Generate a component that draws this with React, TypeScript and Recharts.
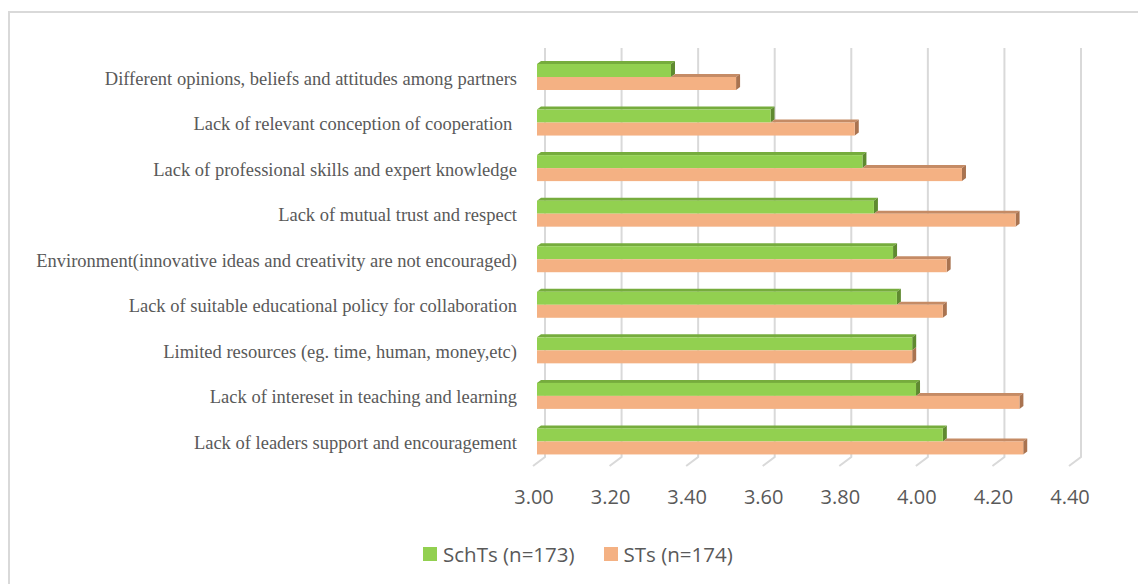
import React from 'react';
import { BarChart, Bar, XAxis, YAxis, CartesianGrid, Legend } from 'recharts';

const categories = [
    'Different opinions, beliefs and attitudes among partners',
    'Lack of relevant conception of cooperation ',
    'Lack of professional skills and expert knowledge',
    'Lack of mutual trust and respect',
    'Environment(innovative ideas and creativity are not encouraged)',
    'Lack of suitable educational policy for collaboration',
    'Limited resources (eg. time, human, money,etc)',
    'Lack of intereset in teaching and learning',
    'Lack of leaders support and encouragement',
];
const schTs = [3.35, 3.61, 3.85, 3.88, 3.93, 3.94, 3.98, 3.99, 4.06];
const sts = [3.52, 3.83, 4.11, 4.25, 4.07, 4.06, 3.98, 4.26, 4.27];
const xTicks = [3.0, 3.2, 3.4, 3.6, 3.8, 4.0, 4.2, 4.4];
const X_MIN = 3;

const data = categories.map((name, i) => ({ name, schts: schTs[i], sts: sts[i] }));

const GREEN = '#92d050';
const ORANGE = '#f4b183';
const TEXT = '#595959';
const DX = 4; // depth of the 3d faces
const DY = 3;

// front face + top + right side, like excel's 3-D clustered bars
const make3D = (topColor: string, sideColor: string, isBack: boolean) => (props: any) => {
    const { x, y, width, height, fill, payload } = props;
    if (width == null || width <= 0) return <g />;
    // the lower bar's top face is hidden under the upper bar up to its end
    let topStart = x;
    if (isBack && payload) {
        const ratio = (payload.schts - X_MIN) / (payload.sts - X_MIN);
        topStart = x + width * Math.min(1, ratio);
    }
    const r = x + width;
    return (
        <g>
            {topStart < r + 0.5 && (
                <path
                    d={`M${topStart},${y} L${topStart + DX},${y - DY} L${r + DX},${y - DY} L${r},${y} Z`}
                    fill={topColor}
                />
            )}
            <path d={`M${r},${y} L${r + DX},${y - DY} L${r + DX},${y + height - DY} L${r},${y + height} Z`} fill={sideColor} />
            <rect x={x} y={y} width={width} height={height} fill={fill} />
        </g>
    );
};

const GreenBar = make3D('#76ac3d', '#5f8a30', false);
const OrangeBar = make3D('#c58b65', '#a97350', true);

// back wall line plus slanted floor line
const gridLine = (props: any) => {
    const { x1, y1, y2, key } = props;
    return (
        <path
            key={key}
            d={`M${x1 + 8},${y1 - 6} L${x1 + 8},${y2 - 7} L${x1 - 4},${y2 + 2}`}
            stroke="#d9d9d9"
            strokeWidth={2}
            fill="none"
        />
    );
};

const XTick = (props: any) => {
    const { x, payload } = props;
    return (
        <text x={x - 3} y={504} textAnchor="middle" fill={TEXT} fontSize={20} fontFamily="'Open Sans', sans-serif">
            {payload.value.toFixed(2)}
        </text>
    );
};

const YTick = (props: any) => {
    const { y, payload } = props;
    return (
        <text x={517} y={y} dy="0.42em" textAnchor="end" fill={TEXT} fontSize={18.5} fontFamily="'Liberation Serif', 'Times New Roman', serif" style={{ whiteSpace: 'pre' }}>
            {payload.value}
        </text>
    );
};

const LegendContent = () => (
    <div style={{ display: 'flex', alignItems: 'center', paddingLeft: 423, height: 30, fontFamily: "'Open Sans', sans-serif", fontSize: 20.5, color: TEXT }}>
        <span style={{ width: 14, height: 14, background: GREEN, display: 'inline-block', marginRight: 6 }} />
        <span style={{ marginRight: 29 }}>SchTs (n=173)</span>
        <span style={{ width: 14, height: 14, background: ORANGE, display: 'inline-block', marginRight: 6 }} />
        <span>STs (n=174)</span>
    </div>
);

export default function App() {
    return (
        <div style={{ position: 'absolute', left: 0, top: 0, width: 1138, height: 584, overflow: 'hidden', background: '#fff' }}>
            <div style={{ position: 'absolute', left: 8, top: 11, width: 1200, height: 700, borderLeft: '2px solid #d9d9d9', borderTop: '2px solid #d9d9d9' }} />
            <div style={{ position: 'absolute', left: 0, top: 0 }}>
                <BarChart
                    layout="vertical"
                    width={1138}
                    height={584}
                    data={data}
                    margin={{ top: 54, right: 65, bottom: 90, left: 0 }}
                    barSize={13}
                    barGap={0}
                >
                    <CartesianGrid horizontal={false} vertical={gridLine} />
                    <XAxis
                        type="number"
                        domain={[3, 4.4]}
                        ticks={xTicks}
                        axisLine={false}
                        tickLine={false}
                        tick={<XTick />}
                        height={30}
                        interval={0}
                    />
                    <YAxis
                        type="category"
                        dataKey="name"
                        width={537}
                        axisLine={false}
                        tickLine={false}
                        tick={<YTick />}
                        interval={0}
                    />
                    <Bar dataKey="schts" name="SchTs (n=173)" fill={GREEN} shape={GreenBar} isAnimationActive={false} />
                    <Bar dataKey="sts" name="STs (n=174)" fill={ORANGE} shape={OrangeBar} isAnimationActive={false} />
                    <Legend
                        layout="horizontal"
                        verticalAlign="middle"
                        align="center"
                        content={<LegendContent />}
                        wrapperStyle={{ left: 0, top: 539, width: 1138 }}
                    />
                </BarChart>
            </div>
        </div>
    );
}
